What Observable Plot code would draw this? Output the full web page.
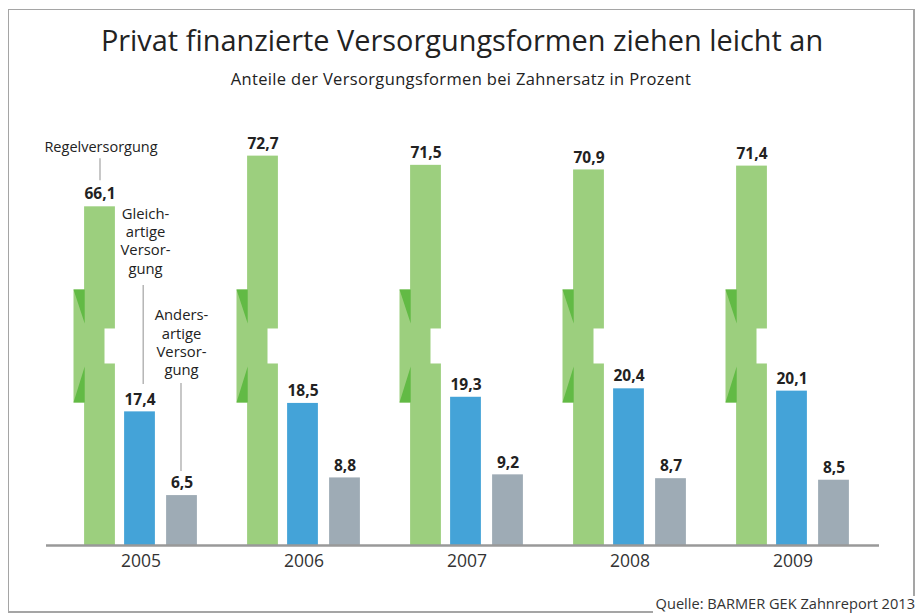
<!DOCTYPE html>
<html><head><meta charset="utf-8">
<script src="https://cdn.jsdelivr.net/npm/d3@7"></script>
<script src="https://cdn.jsdelivr.net/npm/@observablehq/plot@0.6"></script>
<style>
html,body{margin:0;padding:0;background:#fff;}
#wrap{position:relative;width:917px;height:614px;font-family:"Open Sans",sans-serif;color:#222;overflow:hidden;background:#fff;}
.fr{position:absolute;background:#a5a5a5;}
#title{position:absolute;left:0;width:924px;top:26px;text-align:center;font-size:28.9px;line-height:28.9px;white-space:nowrap;}
#subtitle{position:absolute;left:0;width:922px;top:71px;text-align:center;font-size:16.5px;line-height:16.5px;letter-spacing:0.35px;white-space:nowrap;}
#source{position:absolute;right:2px;top:596px;font-size:14.6px;line-height:15px;color:#333;white-space:nowrap;background:#fff;padding-left:6px;}
#chart{position:absolute;left:0;top:100px;}
</style></head>
<body><div id="wrap">
<div class="fr" style="left:7.5px;top:8.5px;width:907px;height:1.5px"></div>
<div class="fr" style="left:7.5px;top:8.5px;width:1.5px;height:604px"></div>
<div class="fr" style="left:913px;top:8.5px;width:1.5px;height:589px"></div>
<div class="fr" style="left:7.5px;top:611px;width:645px;height:1.5px"></div>
<div id="title">Privat finanzierte Versorgungsformen ziehen leicht an</div>
<div id="subtitle">Anteile der Versorgungsformen bei Zahnersatz in Prozent</div>
<div id="source">Quelle: BARMER GEK Zahnreport 2013</div>
<div id="chart"></div>
</div>
<script>
// ---- data ----
const years = ["2005", "2006", "2007", "2008", "2009"];
const regel = [66.1, 72.7, 71.5, 70.9, 71.4];
const gleich = [17.4, 18.5, 19.3, 20.4, 20.1];
const anders = [6.5, 8.8, 9.2, 8.7, 8.5];
const seriesLabels = ["Regelversorgung", "Gleich-\nartige\nVersor-\ngung", "Anders-\nartige\nVersor-\ngung"];

// ---- style / layout ----
const colors = ["#9ccf7e", "#44a3d8", "#9eabb5"];
const darkGreen = "#62ba45";
const K = 7.68;            // px per percent
const BASE = 445;          // baseline in svg coords
const BREAK_LO = 23.7, BREAK_HI = 45.7, YMAX = 80; // axis break
const offs = [-41, -1, 41]; // bar offsets from group centre
const bandW = 163.2, barW = 31;

const series = [regel, gleich, anders];
const rows = series.map(vals => years.map((year, i) => ({year, value: vals[i]})));
const fmt = v => v.toFixed(1).replace(".", ",");

function bars(s) {
  const side = (bandW - barW) / 2;
  return Plot.barY(rows[s], {x: "year", y: "value", fill: colors[s],
    insetLeft: side + offs[s], insetRight: side - offs[s]});
}
function poly(...pts) {
  return {draw(ctx) {
    for (const p of pts) {
      ctx.moveTo(p[0][0], p[0][1]);
      for (let i = 1; i < p.length; i++) ctx.lineTo(p[i][0], p[i][1]);
      ctx.closePath();
    }
  }};
}
const extSym = poly([[-26.5, -74], [-15, -74], [-15, 39], [-26.5, 39]]);
const notchSym = poly([[4.5, -35], [17, -35], [17, 0], [4.5, 0]]);
const triSym = poly([[-26.5, -74], [-15.3, -74], [-15.3, -40]], [[-15.3, 3], [-15.3, 39], [-26.5, 39]]);
const brk = (sym, fill) => Plot.dot(rows[0], {x: "year", y: () => BREAK_LO, dx: offs[0], r: 1, symbol: sym, fill, stroke: "none"});

const valueLabels = s => Plot.text(rows[s], {x: "year", y: "value", text: d => fmt(d.value), dx: offs[s], dy: -12.3,
  fontWeight: "bold", fontSize: 15.5, fill: "#222"});

const ann = seriesLabels.map((label, s) => ({year: years[0], value: series[s][0], label}));
const annDx = [-40, 4.5, 40.5];
const annDy = [-64.9, -206.2, -188.3];
const annSize = [14.5, 14.8, 14.8];
const annLH = [1, 1.24, 1.24];
const leadDx = [-41, 2.2, 40];
const leadTop = [-48, -126.4, -112.1];
const leadBot = [26, 27.4, 24.1];

const marks = [
  bars(0),
  brk(notchSym, "#ffffff"),
  brk(extSym, colors[0]),
  brk(triSym, darkGreen),
  bars(1), bars(2),
  Plot.ruleY([0], {stroke: "#999", strokeWidth: 2.6}),
  valueLabels(0), valueLabels(1), valueLabels(2)
];
ann.forEach((a, s) => {
  marks.push(Plot.text([a], {x: "year", y: "value", text: "label", dx: annDx[s], dy: annDy[s],
    lineAnchor: "top", lineHeight: annLH[s], fontSize: annSize[s], fill: "#222"}));
  marks.push(Plot.ruleX([a], {x: "year", y1: "value", y2: "value", dx: leadDx[s],
    insetTop: leadTop[s], insetBottom: leadBot[s], stroke: "#aaa", strokeWidth: 1.3}));
});

const chart = Plot.plot({
  width: 917, height: 514,
  marginLeft: 46, marginRight: 38, marginTop: 0, marginBottom: 69,
  style: {fontFamily: "Open Sans, sans-serif", fontSize: "17.5px", color: "#333", background: "transparent", overflow: "visible"},
  x: {type: "band", domain: years, range: [140.5 - bandW / 2, 140.5 + 4.5 * bandW], padding: 0,
      axis: "bottom", tickSize: 0, tickPadding: 9, label: null},
  y: {type: "linear", domain: [0, BREAK_LO, BREAK_HI, YMAX],
      range: [BASE, BASE - BREAK_LO * K, BASE - BREAK_LO * K, BASE - (BREAK_LO + YMAX - BREAK_HI) * K],
      axis: null},
  marks
});
document.getElementById("chart").appendChild(chart);
</script>
</body></html>
